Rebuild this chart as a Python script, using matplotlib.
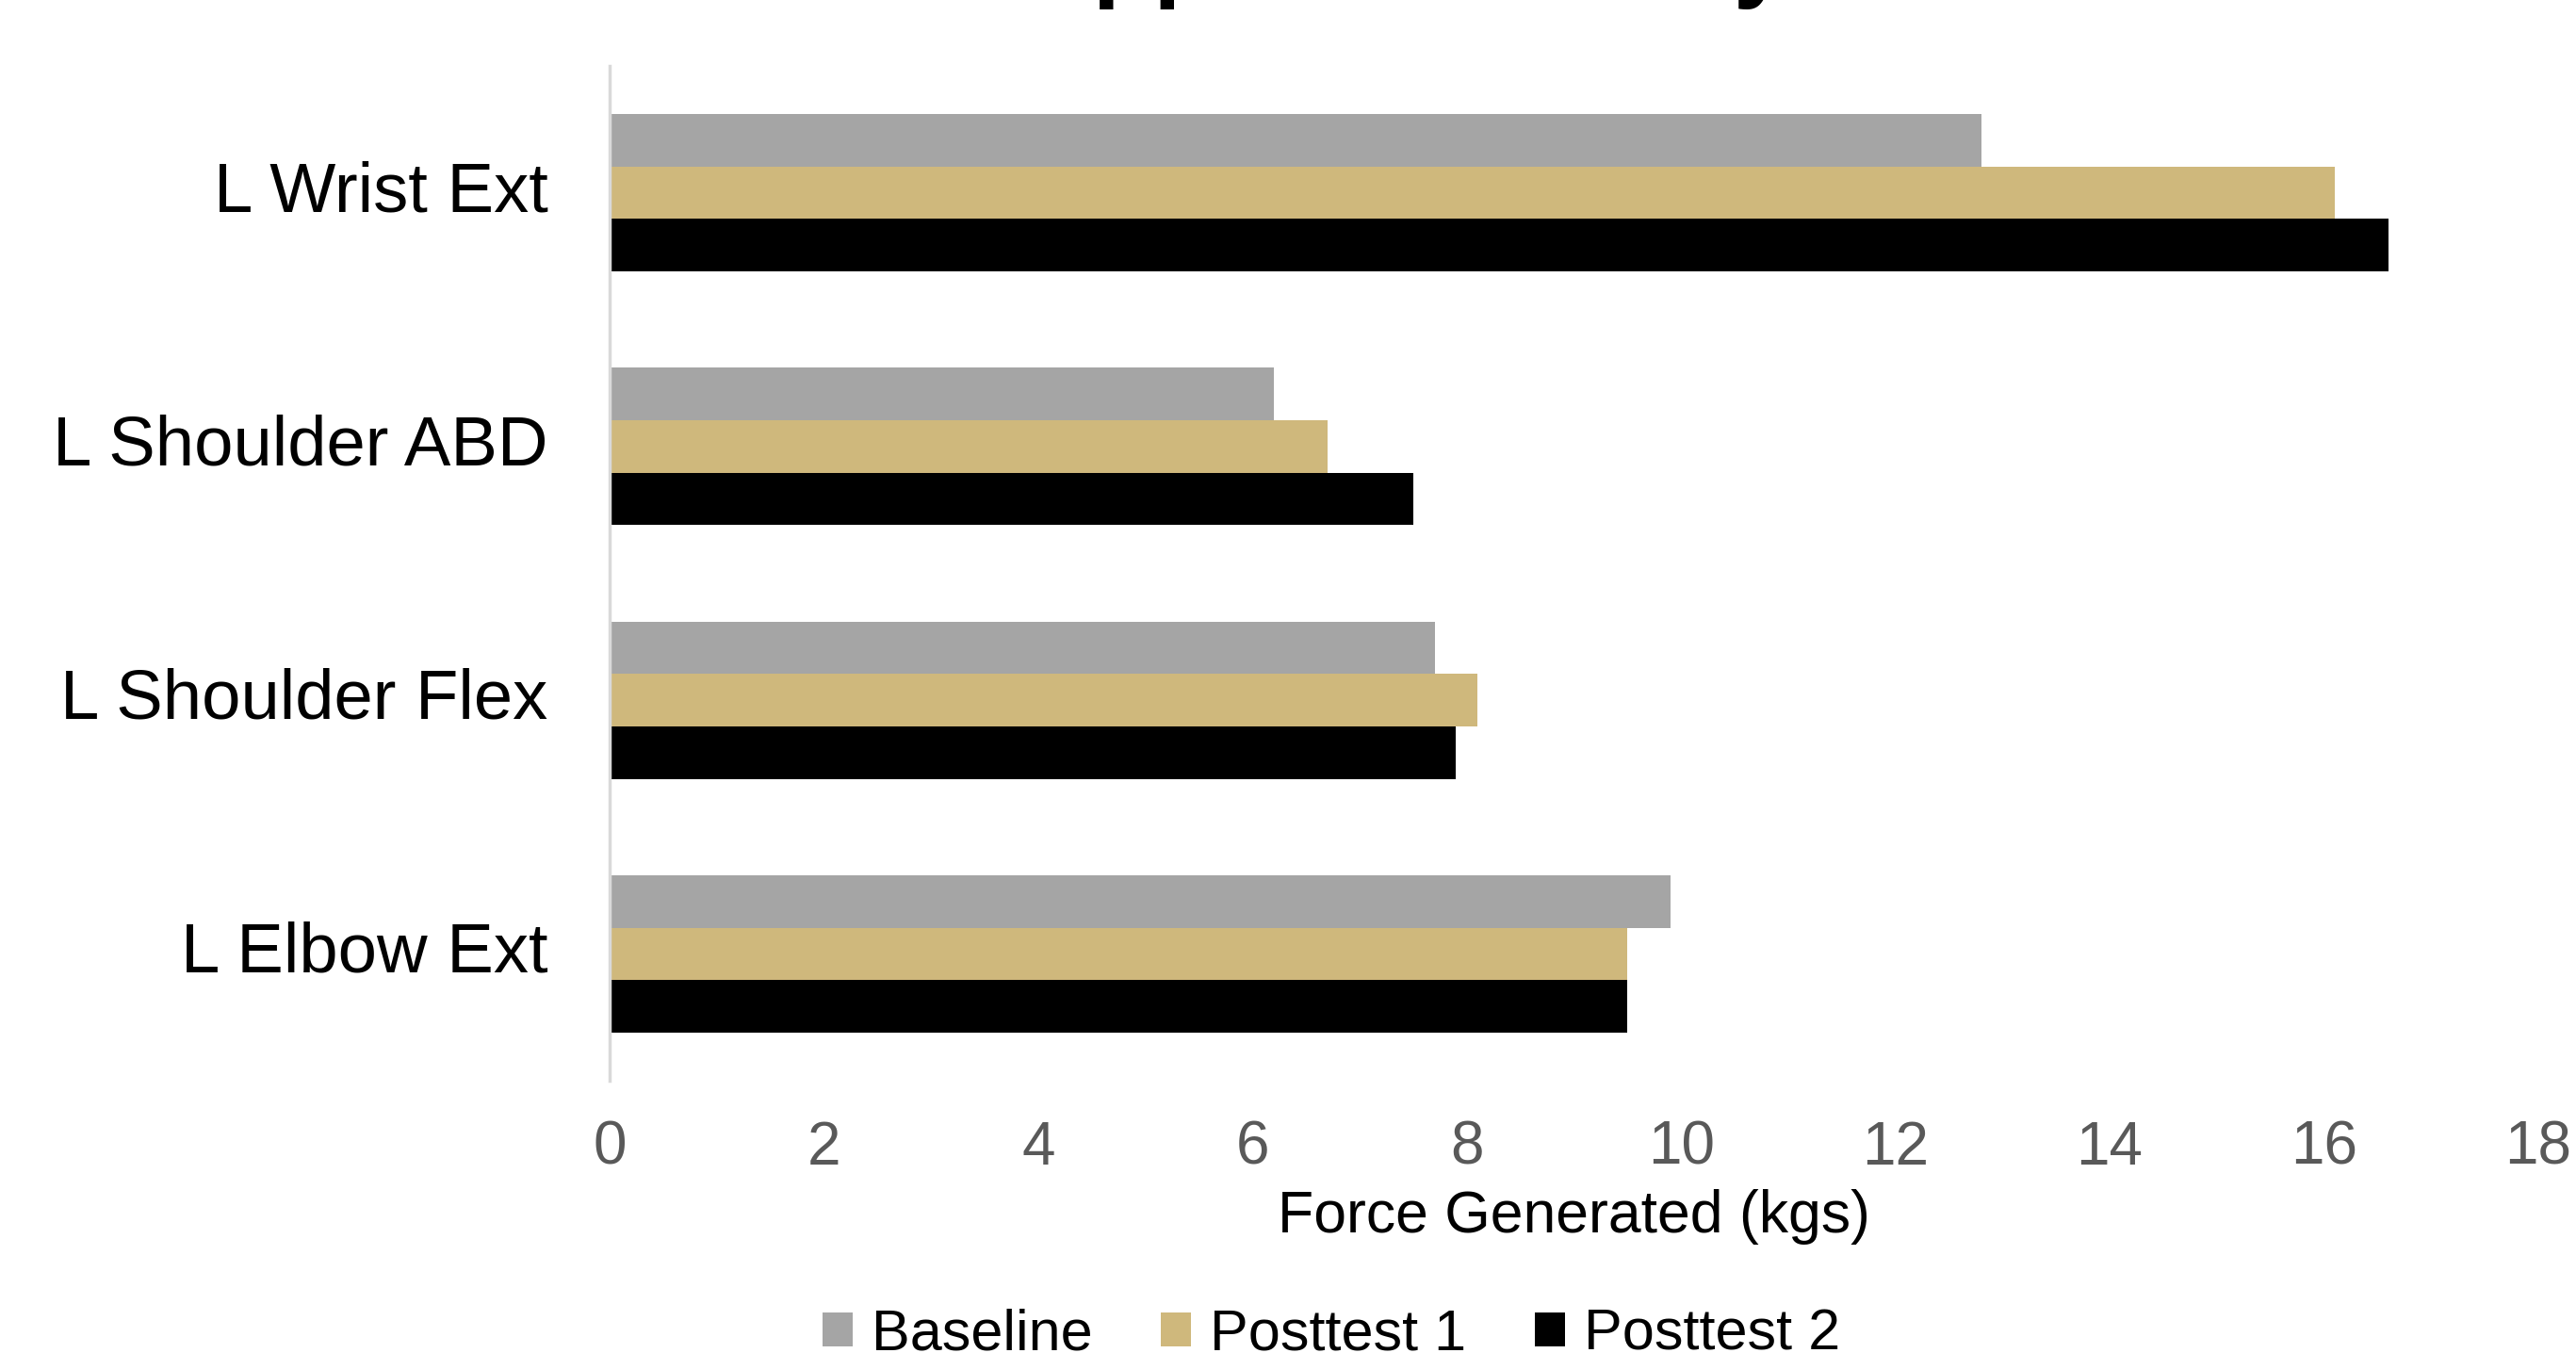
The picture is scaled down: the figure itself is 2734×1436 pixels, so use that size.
import matplotlib
matplotlib.use("Agg")
import matplotlib.pyplot as plt
import numpy as np

plt.rcParams['font.family'] = ['Liberation Sans', 'DejaVu Sans']

# Data: left upper-extremity strength (kg) at each test point
categories = ["L Elbow Ext", "L Shoulder Flex", "L Shoulder ABD", "L Wrist Ext"]
baseline = [9.9, 7.7, 6.2, 12.8]
posttest1 = [9.5, 8.1, 6.7, 16.1]
posttest2 = [9.5, 7.9, 7.5, 16.6]
series_names = ["Baseline", "Posttest 1", "Posttest 2"]
series_colors = ["#A5A5A5", "#CFB87C", "#000000"]
x_ticks = [0, 2, 4, 6, 8, 10, 12, 14, 16, 18]
title = "Left Upper Extremity"
x_label = "Force Generated (kgs)"

W, H, DPI = 2734, 1436, 100
fig = plt.figure(figsize=(W / DPI, H / DPI), dpi=DPI)
ax = fig.add_axes([647 / W, 1 - 1147 / H, (2694 - 647) / W, (1147 - 70) / H])

y = np.arange(len(categories))
bar_h = 0.207
series = [baseline, posttest1, posttest2]
offsets = [bar_h, 0.0, -bar_h]
for vals, off, name, col in zip(series, offsets, series_names, series_colors):
    ax.barh(y + off, vals, height=bar_h, color=col, label=name, linewidth=0)

ax.set_xlim(0, 18)
ax.set_ylim(-0.5, len(categories) - 0.5)
ax.set_xticks(x_ticks)
ax.set_xticklabels([str(t) for t in x_ticks])
ax.set_yticks(y)
ax.set_yticklabels(categories)
for lbl in ax.get_yticklabels():
    lbl.set_verticalalignment("center")

ax.tick_params(axis='x', length=0, pad=30, labelsize=46, labelcolor="#595959")
ax.tick_params(axis='y', length=0, pad=47, labelsize=53.5, labelcolor="#000000")

for side in ("top", "right", "bottom"):
    ax.spines[side].set_visible(False)
ax.spines["left"].set_color("#D9D9D9")
ax.spines["left"].set_linewidth(2.5)

ax.set_xlabel(x_label, fontsize=45, color="#000000", va="center")
ax.xaxis.set_label_coords(0.5, -0.134)

# Title sits largely above the top edge of the canvas
fig.text(1380 / W, 1 + 12 / H, title, ha="center", va="baseline",
         fontsize=76, fontweight="bold", color="#000000")

fig.legend(loc="center", bbox_to_anchor=(1413 / W, 1 - 1417 / H), ncol=3,
           frameon=False, fontsize=44, handlelength=0.52, handleheight=0.52,
           handletextpad=0.32, columnspacing=1.2, borderpad=0.0)

fig.savefig("out.png", dpi=DPI)
